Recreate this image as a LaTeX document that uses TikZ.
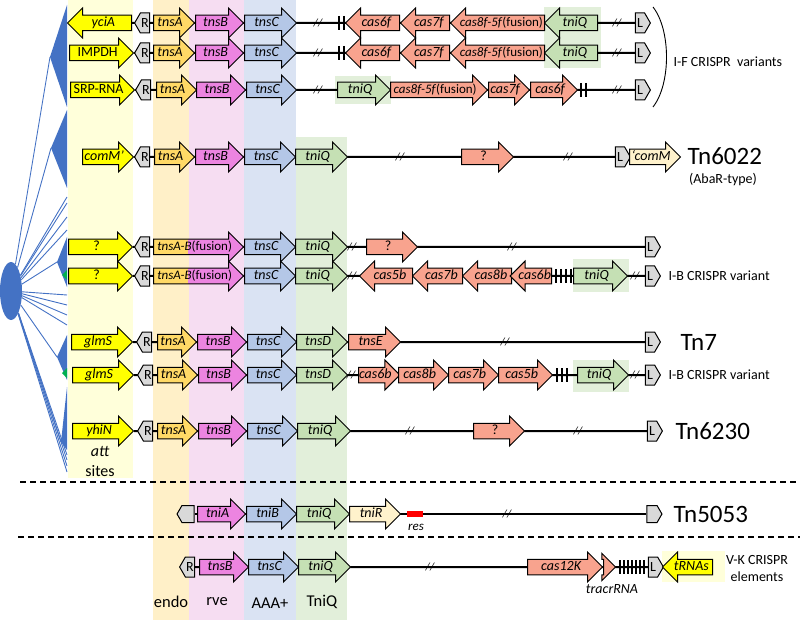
\documentclass[tikz,border=0pt]{standalone}
\usepackage{fontspec}
\setmainfont{Carlito}
\usepackage{tikz}
\usetikzlibrary{shapes.arrows,shapes.symbols,shapes.geometric}
\usepackage{xcolor}
\definecolor{ColAtt}{RGB}{255,255,0}
\definecolor{ColTnsA}{RGB}{255,217,102}
\definecolor{ColTnsB}{RGB}{236,132,224}
\definecolor{ColTnsC}{RGB}{180,199,231}
\definecolor{ColTniQ}{RGB}{197,224,180}
\definecolor{ColCas}{RGB}{248,163,142}
\definecolor{ColPale}{RGB}{255,242,204}
\definecolor{ColEnd}{RGB}{217,217,217}
\definecolor{ColTree}{RGB}{68,114,196}
\definecolor{ColTip}{RGB}{0,176,80}
\definecolor{BandAtt}{RGB}{255,255,218}
\definecolor{BandEndo}{RGB}{255,240,200}
\definecolor{BandRve}{RGB}{246,221,242}
\definecolor{BandAAA}{RGB}{218,227,243}
\definecolor{BandTniQ}{RGB}{226,239,218}
\pgfdeclarelayer{bands}
\pgfdeclarelayer{lines}
\pgfsetlayers{bands,lines,main}
\newcommand{\GeneFont}{\fontsize{14}{15}\selectfont\itshape}
\newcommand{\FusionFont}{\fontsize{13}{14}\selectfont\itshape}
\tikzstyle{GeneR}=[single arrow,draw=black,line width=1pt,single arrow head extend=7.25pt,
minimum width=29pt,inner xsep=0pt,inner ysep=0.5pt,text height=10pt,text depth=3.5pt,
font=\GeneFont,anchor=tail]
\tikzstyle{GeneL}=[GeneR,shape border rotate=180]
\tikzstyle{EndBox}=[signal,draw=black,line width=1pt,fill=ColEnd,minimum width=15pt,
minimum height=20pt,inner sep=0pt,signal pointer angle=120,font=\fontsize{14}{14}\selectfont]
\tikzstyle{BoxR}=[EndBox,signal to=west]
\tikzstyle{BoxL}=[EndBox,signal to=east]
\tikzstyle{Backbone}=[line width=2pt,black]
\tikzstyle{Cut}=[inner sep=0pt,font=\fontsize{11}{11}\selectfont\itshape]
\tikzstyle{Repeat}=[line width=2.6pt,black]
\tikzstyle{TreeLine}=[ColTree,line width=0.9pt]
\tikzstyle{Sep}=[line width=1.3pt,dash pattern=on 6pt off 4pt]
\tikzstyle{Name}=[anchor=west,font=\fontsize{25}{27}\selectfont]
\tikzstyle{Note}=[font=\fontsize{14}{15}\selectfont]
\tikzstyle{Domain}=[font=\fontsize{16.5}{18}\selectfont]

\begin{document}
\begin{tikzpicture}[x=1pt,y=-1pt]
    \useasboundingbox(0,0)rectangle(800,620);
    \begin{pgfonlayer}{bands}
        \fill[BandAtt](68,0)rectangle(133,478);
        \fill[BandEndo](153,0)rectangle(189,620);
        \fill[BandRve](189,0)rectangle(244,620);
        \fill[BandAAA](244,0)rectangle(296,620);
        \fill[BandTniQ](296,137)rectangle(347,620);
        \fill[BandTniQ](544,7)rectangle(601,68);
        \fill[BandTniQ](335,76)rectangle(391,104);
        \fill[BandTniQ](573,259)rectangle(629,292);
        \fill[BandTniQ](573,360)rectangle(629,392);
        \fill[BandAtt](662,551)rectangle(725,582);
    \end{pgfonlayer}
    % tree
    \node[ellipse,fill=ColTree,minimum width=22pt,minimum height=58pt,inner sep=0pt](Root)at(11,291){};
    \coordinate(CladeA)at(50,57);
    \coordinate(CladeB)at(51,148);
    \coordinate(CladeC)at(57,262);
    \coordinate(CladeD)at(57,357);
    \coordinate(CladeE)at(61,442);
    \fill[ColTree](CladeA)--(67,5)--(67,107)--cycle;
    \fill[ColTree](CladeB)--(67,110)--(67,188)--cycle;
    \fill[ColTree](CladeC)--(67,237)--(67,287)--cycle;
    \fill[ColTree](CladeD)--(67,335)--(67,380)--cycle;
    \fill[ColTree](CladeE)--(67,387)--(67,450)--cycle;
    \fill[ColTip](62,275)--(67,270)--(67,280)--cycle;
    \fill[ColTip](62,373)--(67,368)--(67,378)--cycle;
    \foreach \c in {CladeA,CladeB,CladeC,CladeD,CladeE}\draw[TreeLine](Root)--(\c);
    \foreach \y[count=\i] in {197,203,217,230,295,305,315,325,455,460,466,472}{
        \coordinate(Leaf\i)at(67,\y);
        \draw[TreeLine](Root)--(Leaf\i);}
    % I-F
    \node[GeneL,fill=ColAtt,minimum height=64pt](Att1)at(132,23){yciA};
    \node[BoxR](R1)at(145,23){R};
    \node[GeneR,fill=ColTnsA,minimum height=41pt](A1)at(153,23){tnsA};
    \node[GeneR,fill=ColTnsB,minimum height=48pt](B1)at(195,23){tnsB};
    \node[GeneR,fill=ColTnsC,minimum height=52pt](C1)at(244,23){tnsC};
    \node[Cut](X1)at(318,23){//};
    \foreach \x in {339,344}\draw[Repeat](\x,16)--(\x,30);
    \node[GeneL,fill=ColCas,minimum height=54pt](CasA1)at(400,23){cas6f};
    \node[GeneL,fill=ColCas,minimum height=49pt](CasB1)at(450,23){cas7f};
    \node[GeneL,fill=ColCas,minimum height=94pt,font=\FusionFont](CasC1)at(545,23){cas8f-5f\textup{(fusion)}};
    \node[GeneL,fill=ColTniQ,minimum height=53pt](Q1)at(598,23){tniQ};
    \node[Cut](Y1)at(617,23){//};
    \node[BoxL](L1)at(640,23){L};

    \node[GeneR,fill=ColAtt,minimum height=64pt](Att2)at(69,53){\textup{IMPDH}};
    \node[BoxR](R2)at(145,53){R};
    \node[GeneR,fill=ColTnsA,minimum height=41pt](A2)at(153,53){tnsA};
    \node[GeneR,fill=ColTnsB,minimum height=48pt](B2)at(195,53){tnsB};
    \node[GeneR,fill=ColTnsC,minimum height=52pt](C2)at(244,53){tnsC};
    \node[Cut](X2)at(318,53){//};
    \foreach \x in {339,344}\draw[Repeat](\x,46)--(\x,60);
    \node[GeneL,fill=ColCas,minimum height=54pt](CasA2)at(400,53){cas6f};
    \node[GeneL,fill=ColCas,minimum height=49pt](CasB2)at(450,53){cas7f};
    \node[GeneL,fill=ColCas,minimum height=94pt,font=\FusionFont](CasC2)at(545,53){cas8f-5f\textup{(fusion)}};
    \node[GeneL,fill=ColTniQ,minimum height=53pt](Q2)at(598,53){tniQ};
    \node[Cut](Y2)at(617,53){//};
    \node[BoxL](L2)at(640,53){L};

    \node[GeneR,fill=ColAtt,minimum height=64pt](Att3)at(70,90){\textup{SRP-RNA}};
    \node[BoxR](R3)at(146,90){R};
    \node[GeneR,fill=ColTnsA,minimum height=40pt](A3)at(156,90){tnsA};
    \node[GeneR,fill=ColTnsB,minimum height=49pt](B3)at(196,90){tnsB};
    \node[GeneR,fill=ColTnsC,minimum height=50pt](C3)at(246,90){tnsC};
    \node[Cut](X3)at(318,90){//};
    \node[GeneR,fill=ColTniQ,minimum height=53pt](Q3)at(337,90){tniQ};
    \node[GeneR,fill=ColCas,minimum height=97pt,font=\FusionFont](CasC3)at(390,90){cas8f-5f\textup{(fusion)}};
    \node[GeneR,fill=ColCas,minimum height=41pt](CasB3)at(488,90){cas7f};
    \node[GeneR,fill=ColCas,minimum height=47pt](CasA3)at(530,90){cas6f};
    \foreach \x in {581,586}\draw[Repeat](\x,83)--(\x,97);
    \node[Cut](Y3)at(617,90){//};
    \node[BoxL](L3)at(640,90){L};
    \draw[line width=0.9pt](653,7)..controls(671,30)and(671,84)..(653,107);
    \node[Note,anchor=west](IF)at(670,62){I-F CRISPR\ \ variants};
    % Tn6022
    \node[GeneR,fill=ColAtt,minimum height=51pt](Att4)at(82,157){comM'};
    \node[BoxR](R4)at(145,157){R};
    \node[GeneR,fill=ColTnsA,minimum height=40pt](A4)at(154,157){tnsA};
    \node[GeneR,fill=ColTnsB,minimum height=48pt](B4)at(195,157){tnsB};
    \node[GeneR,fill=ColTnsC,minimum height=51pt](C4)at(244,157){tnsC};
    \node[GeneR,fill=ColTniQ,minimum height=52pt](Q4)at(295,157){tniQ};
    \node[Cut](X4)at(400,157){//};
    \node[GeneR,fill=ColCas,minimum height=52pt](U4)at(461,157){\textup{?}};
    \node[Cut](Y4)at(568,157){//};
    \node[BoxL](L4)at(620,157){L};
    \node[GeneR,fill=ColPale,minimum height=51pt](Com4)at(629,157){`comM};
    \node[Name](Tn6022)at(684,156){Tn6022};
    \node[Note](AbaR)at(723,180){(AbaR-type)};
    % tnsA-B fusions
    \node[GeneR,fill=ColAtt,minimum height=64pt](Att5)at(68,247){\textup{?}};
    \node[BoxR](R5)at(145,247){R};
    \node[GeneR,fill=ColTnsB,minimum height=90pt,font=\FusionFont,path picture={\fill[ColTnsA](path picture bounding box.south west)rectangle([xshift=34pt]path picture bounding box.north west);}](AB5)at(153,247){tnsA-B\textup{(fusion)}};
    \node[GeneR,fill=ColTnsC,minimum height=51pt](C5)at(244,247){tnsC};
    \node[GeneR,fill=ColTniQ,minimum height=52pt](Q5)at(295,247){tniQ};
    \node[Cut](X5)at(352,247){//};
    \node[GeneR,fill=ColCas,minimum height=51pt](U5)at(366,247){\textup{?}};
    \node[Cut](Y5)at(512,247){//};
    \node[BoxL](L5)at(650,247){L};

    \node[GeneR,fill=ColAtt,minimum height=64pt](Att6)at(68,276){\textup{?}};
    \node[BoxR](R6)at(145,276){R};
    \node[GeneR,fill=ColTnsB,minimum height=90pt,font=\FusionFont,path picture={\fill[ColTnsA](path picture bounding box.south west)rectangle([xshift=34pt]path picture bounding box.north west);}](AB6)at(153,276){tnsA-B\textup{(fusion)}};
    \node[GeneR,fill=ColTnsC,minimum height=51pt](C6)at(244,276){tnsC};
    \node[GeneR,fill=ColTniQ,minimum height=52pt](Q6)at(295,276){tniQ};
    \node[Cut](X6)at(352,276){//};
    \node[GeneL,fill=ColCas,minimum height=53pt](CasA6)at(413,276){cas5b};
    \node[GeneL,fill=ColCas,minimum height=50pt](CasB6)at(463,276){cas7b};
    \node[GeneL,fill=ColCas,minimum height=49pt](CasC6)at(512,276){cas8b};
    \node[GeneL,fill=ColCas,minimum height=40pt](CasD6)at(552,276){cas6b};
    \foreach \x in {556,561,566,571}\draw[Repeat](\x,269)--(\x,283);
    \node[GeneR,fill=ColTniQ,minimum height=54pt](QQ6)at(573,276){tniQ};
    \node[Cut](Y6)at(635,276){//};
    \node[BoxL](L6)at(650,276){L};
    \node[Note,anchor=west](IB6)at(665,276){I-B CRISPR variant};
    % Tn7
    \node[GeneR,fill=ColAtt,minimum height=61pt](Att7)at(71,342){glmS};
    \node[BoxR](R7)at(147,342){R};
    \node[GeneR,fill=ColTnsA,minimum height=39pt](A7)at(157,342){tnsA};
    \node[GeneR,fill=ColTnsB,minimum height=49pt](B7)at(197,342){tnsB};
    \node[GeneR,fill=ColTnsC,minimum height=49pt](C7)at(247,342){tnsC};
    \node[GeneR,fill=ColTniQ,minimum height=51pt](D7)at(296,342){tnsD};
    \node[GeneR,fill=ColCas,minimum height=52pt](E7)at(348,342){tnsE};
    \node[Cut](Y7)at(505,342){//};
    \node[BoxL](L7)at(650,342){L};
    \node[Name](Tn7)at(677,342){Tn7};

    \node[GeneR,fill=ColAtt,minimum height=61pt](Att8)at(72,375){glmS};
    \node[BoxR](R8)at(148,375){R};
    \node[GeneR,fill=ColTnsA,minimum height=40pt](A8)at(157,375){tnsA};
    \node[GeneR,fill=ColTnsB,minimum height=48pt](B8)at(198,375){tnsB};
    \node[GeneR,fill=ColTnsC,minimum height=49pt](C8)at(247,375){tnsC};
    \node[GeneR,fill=ColTniQ,minimum height=51pt](D8)at(296,375){tnsD};
    \node[Cut](X8)at(351,375){//};
    \node[GeneR,fill=ColCas,minimum height=40pt](CasA8)at(358,375){cas6b};
    \node[GeneR,fill=ColCas,minimum height=50pt](CasB8)at(398,375){cas8b};
    \node[GeneR,fill=ColCas,minimum height=50pt](CasC8)at(448,375){cas7b};
    \node[GeneR,fill=ColCas,minimum height=54pt](CasD8)at(498,375){cas5b};
    \foreach \x in {557,562,567}\draw[Repeat](\x,368)--(\x,382);
    \node[GeneR,fill=ColTniQ,minimum height=51pt](QQ8)at(577,375){tniQ};
    \node[Cut](Y8)at(635,375){//};
    \node[BoxL](L8)at(650,375){L};
    \node[Note,anchor=west](IB8)at(665,375){I-B CRISPR variant};
    % Tn6230
    \node[GeneR,fill=ColAtt,minimum height=61pt](Att9)at(72,431){yhiN};
    \node[BoxR](R9)at(148,431){R};
    \node[GeneR,fill=ColTnsA,minimum height=40pt](A9)at(157,431){tnsA};
    \node[GeneR,fill=ColTnsB,minimum height=48pt](B9)at(198,431){tnsB};
    \node[GeneR,fill=ColTnsC,minimum height=50pt](C9)at(247,431){tnsC};
    \node[GeneR,fill=ColTniQ,minimum height=53pt](Q9)at(297,431){tniQ};
    \node[Cut](X9)at(410,431){//};
    \node[GeneR,fill=ColCas,minimum height=51pt](U9)at(473,431){\textup{?}};
    \node[Cut](Y9)at(578,431){//};
    \node[BoxL](L9)at(652,431){L};
    \node[Name](Tn6230)at(672,431){Tn6230};
    \node[font=\fontsize{16}{18}\selectfont\itshape](Att)at(100,451){att};
    \node[font=\fontsize{16}{18}\selectfont](Sites)at(100,471){sites};
    \draw[Sep](20,482)--(800,482);
    % Tn5053
    \node[BoxR,minimum width=17pt,minimum height=17pt](R10)at(188,514){};
    \node[GeneR,fill=ColTnsB,minimum height=48pt](A10)at(197,514){tniA};
    \node[GeneR,fill=ColTnsC,minimum height=50pt](C10)at(246,514){tniB};
    \node[GeneR,fill=ColTniQ,minimum height=53pt](Q10)at(296,514){tniQ};
    \node[GeneR,fill=ColPale,minimum height=51pt](T10)at(349,514){tniR};
    \node[fill=red,minimum width=16pt,minimum height=6pt,inner sep=0pt](Res)at(415,514){};
    \node[font=\fontsize{13}{14}\selectfont\itshape](ResLbl)at(416,527){res};
    \node[Cut](Y10)at(507,514){//};
    \node[BoxL,minimum height=17pt](L10)at(652,514){};
    \node[Name](Tn5053)at(670,514){Tn5053};
    \draw[Sep](18,537)--(800,537);
    % V-K
    \node[BoxR](R11)at(190,567){R};
    \node[GeneR,fill=ColTnsB,minimum height=49pt](B11)at(199,567){tnsB};
    \node[GeneR,fill=ColTnsC,minimum height=50pt](C11)at(248,567){tnsC};
    \node[GeneR,fill=ColTniQ,minimum height=52pt](Q11)at(298,567){tniQ};
    \node[Cut](Y11)at(430,567){//};
    \node[GeneR,fill=ColCas,minimum height=75pt](Cas11)at(527,567){cas12K};
    \node[GeneR,fill=ColCas,minimum height=12pt,minimum width=26pt,single arrow head extend=6pt](Tracr)at(603,567){};
    \node[font=\GeneFont](TracrLbl)at(612,589){tracrRNA};
    \foreach \x in {620,624,...,644}\draw[Repeat](\x,560)--(\x,574);
    \node[BoxL](L11)at(653,567){L};
    \node[GeneL,fill=ColAtt,minimum height=50pt](TRNA)at(713,567){tRNAs};
    \node[Note](VK1)at(757,560){V-K CRISPR};
    \node[Note](VK2)at(757,577){elements};
    \node[Domain](Endo)at(171,602){endo};
    \node[Domain](Rve)at(217,602){rve};
    \node[Domain](AAA)at(270,603){AAA+};
    \node[Domain](TniQ)at(322,602){TniQ};
    \begin{pgfonlayer}{lines}
        \foreach \a/\b in {Att1/L1,Att2/L2,Att3/L3,Att4/L4,Att5/L5,Att6/L6,Att7/L7,Att8/L8,Att9/L9,R10/L10,R11/TRNA}
            \draw[Backbone](\a)--(\b);
    \end{pgfonlayer}
\end{tikzpicture}
\end{document}
